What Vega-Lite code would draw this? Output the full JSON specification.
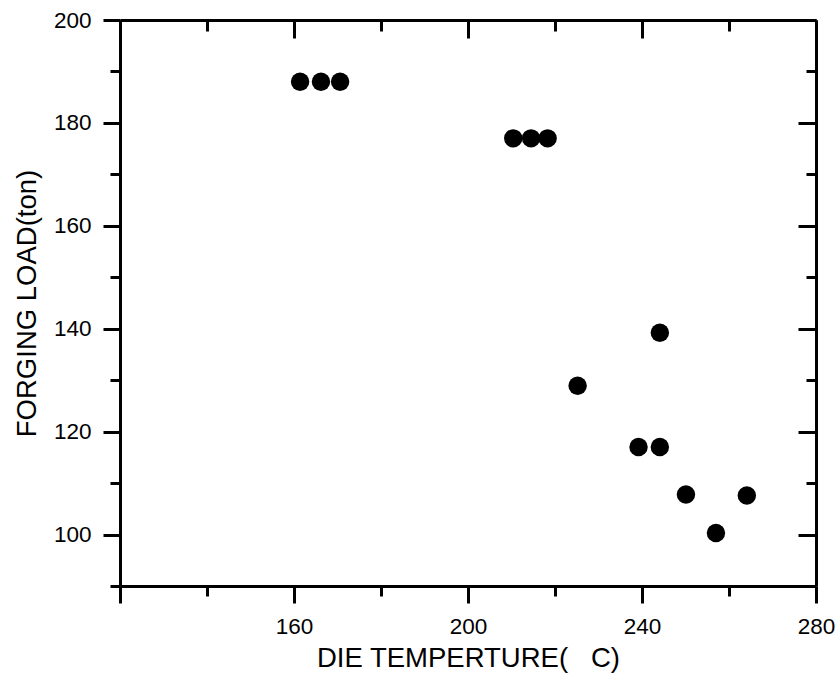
{
  "$schema": "https://vega.github.io/schema/vega-lite/v6.json",
  "width": 696,
  "height": 566,
  "autosize": {"type": "none"},
  "padding": {"left": 120, "top": 20, "right": 24, "bottom": 103},
  "background": "white",
  "config": {
    "view": {"stroke": null}
  },
  "data": {
    "values": [
      {"temp": 161.4, "load": 188},
      {"temp": 166.2, "load": 188},
      {"temp": 170.6, "load": 188},
      {"temp": 210.4, "load": 177},
      {"temp": 214.5, "load": 177},
      {"temp": 218.3, "load": 177},
      {"temp": 244.1, "load": 139.2},
      {"temp": 225.2, "load": 128.9},
      {"temp": 239.2, "load": 117},
      {"temp": 244.1, "load": 117},
      {"temp": 250.1, "load": 107.8},
      {"temp": 264.1, "load": 107.6},
      {"temp": 257.0, "load": 100.3}
    ]
  },
  "layer": [
    {
      "mark": {"type": "point", "filled": true, "shape": "circle", "size": 340, "color": "black", "opacity": 1},
      "encoding": {
        "x": {
          "field": "temp", "type": "quantitative",
          "scale": {"domain": [120, 280], "nice": false, "zero": false},
          "axis": {
            "orient": "bottom",
            "title": "DIE TEMPERTURE(\u00a0\u00a0\u00a0C)",
            "values": [120, 140, 160, 180, 200, 220, 240, 260, 280],
            "grid": false,
            "domainColor": "black", "domainWidth": 3,
            "tickColor": "black", "tickWidth": 3,
            "tickSize": {"condition": {"test": "datum.value % 40 === 0", "value": 17}, "value": 10},
            "labelExpr": "datum.value % 40 === 0 && datum.value > 120 ? datum.label : ''",
            "labelFont": "Liberation Sans", "labelFontSize": 22.5, "labelColor": "black",
            "labelOverlap": false, "labelFlush": false,
            "labelPadding": 12,
            "titleFont": "Liberation Sans", "titleFontSize": 27.5, "titleFontWeight": "normal", "titleColor": "black",
            "titlePadding": 7
          }
        },
        "y": {
          "field": "load", "type": "quantitative",
          "scale": {"domain": [90, 200], "nice": false, "zero": false},
          "axis": {
            "orient": "left",
            "title": "FORGING LOAD(ton)",
            "values": [90, 100, 110, 120, 130, 140, 150, 160, 170, 180, 190, 200],
            "grid": false,
            "domainColor": "black", "domainWidth": 3,
            "tickColor": "black", "tickWidth": 3,
            "tickSize": {"condition": {"test": "datum.value % 20 === 0", "value": 17}, "value": 10},
            "labelExpr": "datum.value % 20 === 0 ? datum.label : ''",
            "labelFont": "Liberation Sans", "labelFontSize": 22.5, "labelColor": "black",
            "labelOverlap": false, "labelFlush": false,
            "labelPadding": 12,
            "titleFont": "Liberation Sans", "titleFontSize": 27.5, "titleFontWeight": "normal", "titleColor": "black",
            "titlePadding": 12
          }
        }
      }
    },
    {
      "mark": {"type": "point", "filled": true, "shape": "circle", "size": 340, "color": "black", "opacity": 0},
      "encoding": {
        "x": {
          "field": "temp", "type": "quantitative",
          "scale": {"domain": [120, 280], "nice": false, "zero": false},
          "axis": {
            "orient": "top",
            "title": null,
            "values": [120, 140, 160, 180, 200, 220, 240, 260, 280],
            "grid": false,
            "domainColor": "black", "domainWidth": 3,
            "tickColor": "black", "tickWidth": 3,
            "tickSize": {"condition": {"test": "datum.value % 40 === 0", "value": -18}, "value": -11},
            "labels": false
          }
        },
        "y": {
          "field": "load", "type": "quantitative",
          "scale": {"domain": [90, 200], "nice": false, "zero": false},
          "axis": {
            "orient": "right",
            "title": null,
            "values": [90, 100, 110, 120, 130, 140, 150, 160, 170, 180, 190, 200],
            "grid": false,
            "domainColor": "black", "domainWidth": 3,
            "tickColor": "black", "tickWidth": 3,
            "tickSize": {"condition": {"test": "datum.value % 20 === 0", "value": -18}, "value": -10},
            "labels": false
          }
        }
      }
    }
  ],
  "resolve": {"axis": {"x": "independent", "y": "independent"}}
}
